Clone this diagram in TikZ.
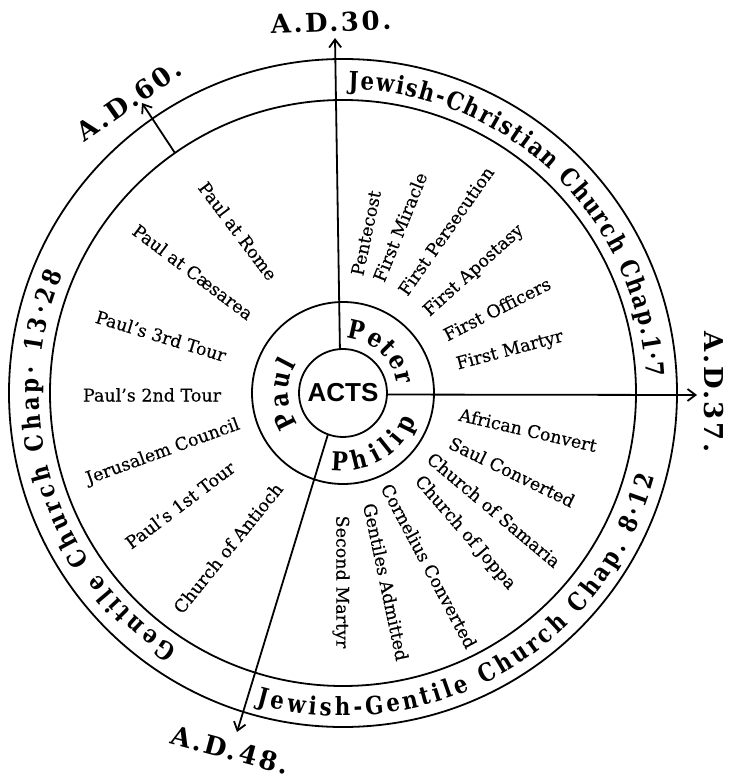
\documentclass[tikz,border=0pt]{standalone}
\usepackage{fontspec}
\setmainfont{DejaVu Serif}
\newfontfamily\evfont{DejaVu Serif}[FakeBold=0.3]
\newfontfamily\rfont{DejaVu Serif}[FakeStretch=0.85]
\newfontfamily\adfontfam{DejaVu Serif}[LetterSpace=10]
\newfontfamily\actsfont{Liberation Sans}
\usetikzlibrary{decorations.text,arrows.meta}
\newcommand\evsize{\evfont\fontsize{17.5bp}{20bp}\selectfont}
\newcommand\rsize{\rfont\bfseries\fontsize{25bp}{28bp}\selectfont}
\newcommand\msize{\rfont\bfseries\fontsize{26bp}{30bp}\selectfont}
\newcommand\adsize{\adfontfam\bfseries\fontsize{26bp}{30bp}\selectfont}
\newcommand\actssize{\actsfont\bfseries\fontsize{26bp}{30bp}\selectfont}
\begin{document}
\begin{tikzpicture}[x=1bp,y=1bp,
  ringc/.style={circle,draw,line width=1.8bp,inner sep=0pt,outer sep=0pt},
  arr/.style={line width=1.8bp,-{Straight Barb[length=8bp,width=12bp]}},
  ev/.style={font=\evsize,inner sep=0pt},
  ad/.style={font=\adsize,inner sep=0pt},
  ringtext/.style={decorate,decoration={text along path,text align={fit to path},text={#1}}}
]
\useasboundingbox (-343,-387) rectangle (394,393);
% circles
\node[ringc,minimum size=668bp] (outer) at (0,0) {};
\node[ringc,minimum size=586bp] (inner) at (0,0) {};
\node[ringc,minimum size=182bp] (mid) at (0,0) {};
\node[ringc,minimum size=88bp,font=\actssize] (acts) at (0,0) {ACTS};
% arrow tips
\coordinate (t30) at (-8,355);
\coordinate (t37) at (354,-2);
\coordinate (t48) at (-106,-339);
\coordinate (t60) at (-201,290);
\draw[arr] (acts.94) -- (t30);
\draw[arr] (acts.358) -- (t37);
\draw[arr] (acts.250) -- (t48);
\draw[arr] (inner.125) -- (t60);
% date labels
\node[ad,rotate=2] (l30) at (-12,371) {A.D.30.};
\node[ad,rotate=35] (l60) at (-214,293) {A.D.60.};
\node[ad,rotate=-90] (l37) at (371,1) {A.D.37.};
\node[ad,rotate=-15] (l48) at (-113,-357) {A.D.48.};
% ring texts
\path[ringtext={|\rsize|Jewish-Christian Church Chap.1·7}] (89:304) arc[start angle=89,end angle=3,radius=304];
\path[ringtext={|\rsize|Jewish-Gentile Church Chap. 8·12}] (254.5:323) arc[start angle=254.5,end angle=345,radius=323];
\path[ringtext={|\rsize|Gentile Church Chap· 13·28}] (237:304) arc[start angle=237,end angle=157,radius=304];
\path[ringtext={|\msize|Peter}] (86:55) arc[start angle=86,end angle=8,radius=55];
\path[ringtext={|\msize|Paul}] (215:55) arc[start angle=215,end angle=148,radius=55];
\path[ringtext={|\msize|Philip}] (261:78) arc[start angle=261,end angle=339,radius=78];
% events
\node[ev,rotate=78] (e1) at (23,160) {Pentecost};
\node[ev,rotate=68] (e2) at (57,166) {First Miracle};
\node[ev,rotate=55] (e3) at (103,162) {First Persecution};
\node[ev,rotate=42] (e4) at (131,122) {First Apostasy};
\node[ev,rotate=27] (e5) at (154,84) {First Officers};
\node[ev,rotate=15] (e6) at (167,42) {First Martyr};
\node[ev,rotate=-13] (e7) at (185,-37) {African Convert};
\node[ev,rotate=-26] (e8) at (169,-79) {Saul Converted};
\node[ev,rotate=-40] (e9) at (151,-117) {Church of Samaria};
\node[ev,rotate=-49] (e10) at (122,-140) {Church of Joppa};
\node[ev,rotate=-62] (e11) at (86,-173) {Cornelius Converted};
\node[ev,rotate=-78] (e12) at (43,-189) {Gentiles Admitted};
\node[ev,rotate=-90] (e13) at (-2,-189) {Second Martyr};
\node[ev,rotate=-53] (e14) at (-105,162) {Paul at Rome};
\node[ev,rotate=-37] (e15) at (-150,121) {Paul at Cæsarea};
\node[ev,rotate=-17] (e16) at (-182,57) {Paul’s 3rd Tour};
\node[ev] (e17) at (-191,-2) {Paul’s 2nd Tour};
\node[ev,rotate=20] (e18) at (-180,-59) {Jerusalem Council};
\node[ev,rotate=37] (e19) at (-163,-112) {Paul’s 1st Tour};
\node[ev,rotate=51] (e20) at (-115,-155) {Church of Antioch};
\end{tikzpicture}
\end{document}
